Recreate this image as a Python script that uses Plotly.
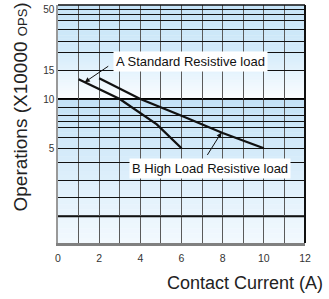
import numpy as np
import plotly.graph_objects as go

# ---- data ----
x_a = [1, 3, 4.8, 6]
y_a = [13.2, 10, 7.0, 5]
x_b = [2, 4, 6, 8, 10]
y_b = [13.4, 10, 7.9, 6.2, 5]

x_ticks = [0, 2, 4, 6, 8, 10, 12]
y_grid = [1.92, 2.5, 3.2, 4.1, 5, 5.86, 6.7, 7.24, 7.9, 8.9, 10, 15,
          19.1, 22.6, 26.7, 30.3, 33, 35.3]
y_labels = ["", "", "", "", "5", "", "", "", "", "", "10", "15",
            "", "", "", "", "", "50"]
y_range = [1.32, 37.5]
label_a = "A Standard Resistive load"
label_b = "B High Load Resistive load"

FONT = "Liberation Sans, Arial, sans-serif"
lo, hi = np.log10(y_range[0]), np.log10(y_range[1])


def frac(v):
    return (np.log10(v) - lo) / (hi - lo)


def hex2rgb(h):
    h = h.lstrip("#")
    return [int(h[i:i + 2], 16) for i in (0, 2, 4)]


def gradient(v_top, v_bot, c_top, c_bot, n=30):
    shapes = []
    f0, f1 = frac(v_bot), frac(v_top)
    a, b = hex2rgb(c_top), hex2rgb(c_bot)
    for i in range(n):
        t = i / (n - 1)
        col = [round(a[k] + (b[k] - a[k]) * t) for k in range(3)]
        y1 = f1 - (f1 - f0) * i / n
        y0 = f1 - (f1 - f0) * (i + 1) / n
        shapes.append(dict(type="rect", xref="paper", yref="paper", x0=0, x1=1,
                           y0=y0 - 0.001, y1=y1 + 0.001, layer="below", line_width=0,
                           fillcolor="rgb(%d,%d,%d)" % tuple(col)))
    return shapes


fig = go.Figure()
fig.add_trace(go.Scatter(x=x_a, y=y_a, mode="lines",
                         line=dict(color="#111111", width=2.3), showlegend=False))
fig.add_trace(go.Scatter(x=x_b, y=y_b, mode="lines",
                         line=dict(color="#111111", width=2.3), showlegend=False))

shapes = []
shapes += gradient(y_range[1], 19.1, "#c6e4f8", "#d2eafa")
shapes += gradient(19.1, 10, "#d6ecfb", "#fafdff")
shapes += gradient(10, y_range[0], "#c4e2f7", "#f2f9fe")
# thicker grid lines
for v in [10, 1.92]:
    shapes.append(dict(type="line", xref="paper", yref="paper", x0=0, x1=1,
                       y0=frac(v), y1=frac(v), layer="below",
                       line=dict(color="#000000", width=2)))
# right and top border
shapes.append(dict(type="line", xref="paper", yref="paper", x0=1, x1=1, y0=0, y1=1,
                   line=dict(color="#111111", width=2)))
shapes.append(dict(type="line", xref="paper", yref="paper", x0=0, x1=1, y0=1, y1=1,
                   line=dict(color="#111111", width=1.5)))


def on_line(xs, ys, x):
    return np.interp(x, xs, np.log10(ys))


annotations = [
    dict(x=6.45, y=np.log10(17.06), xref="x", yref="y", text=label_a, showarrow=False,
         bgcolor="white", borderpad=2, font=dict(family=FONT, size=13, color="#111")),
    dict(x=7.37, y=np.log10(3.74), xref="x", yref="y", text=label_b, showarrow=False,
         bgcolor="white", borderpad=2, font=dict(family=FONT, size=13, color="#111")),
    dict(x=1.3, y=on_line(x_a, y_a, 1.3), xref="x", yref="y", text="", showarrow=True,
         ax=25, ay=-17, arrowhead=2, arrowsize=1, arrowwidth=1, arrowcolor="#111"),
    dict(x=7.94, y=on_line(x_b, y_b, 7.94), xref="x", yref="y", text="", showarrow=True,
         ax=-15, ay=24, arrowhead=2, arrowsize=1, arrowwidth=1, arrowcolor="#111"),
    dict(x=(325 - 58) / 247, y=(243 - 283) / 238, xref="paper", yref="paper",
         text="Contact Current (A)", showarrow=False, xanchor="right", yanchor="middle",
         font=dict(family=FONT, size=18, color="#222")),
    dict(x=(20 - 58) / 247, y=(243 - 107.5) / 238, xref="paper", yref="paper",
         text="Operations (X10000 <span style='font-size:13px'>OPS</span>)",
         textangle=-90, showarrow=False, xanchor="center", yanchor="middle",
         font=dict(family=FONT, size=19, color="#222")),
]

fig.update_layout(
    width=329, height=299,
    margin=dict(l=58, r=24, t=5, b=56),
    paper_bgcolor="white", plot_bgcolor="white",
    shapes=shapes, annotations=annotations,
    xaxis=dict(range=[0, 12], tickvals=x_ticks, showgrid=True, gridcolor="#5a5a5a",
               gridwidth=1.4, zeroline=False, showline=True, linecolor="#808080",
               linewidth=2.5, ticks="", ticklabelstandoff=4,
               tickfont=dict(family=FONT, size=10.5, color="#333"),
               minor=dict(dtick=1, showgrid=True, gridcolor="#5a5a5a", gridwidth=1.4)),
    yaxis=dict(type="log", range=[lo, hi], tickvals=y_grid, ticktext=y_labels,
               showgrid=True, gridcolor="#111111", gridwidth=1, zeroline=False,
               showline=True, linecolor="#999999", linewidth=1.5, ticks="",
               tickfont=dict(family=FONT, size=10, color="#333")),
)

fig.write_html("out.html", config={"displayModeBar": False},
               post_script="document.body.style.margin='0';document.body.style.overflow='hidden';")
